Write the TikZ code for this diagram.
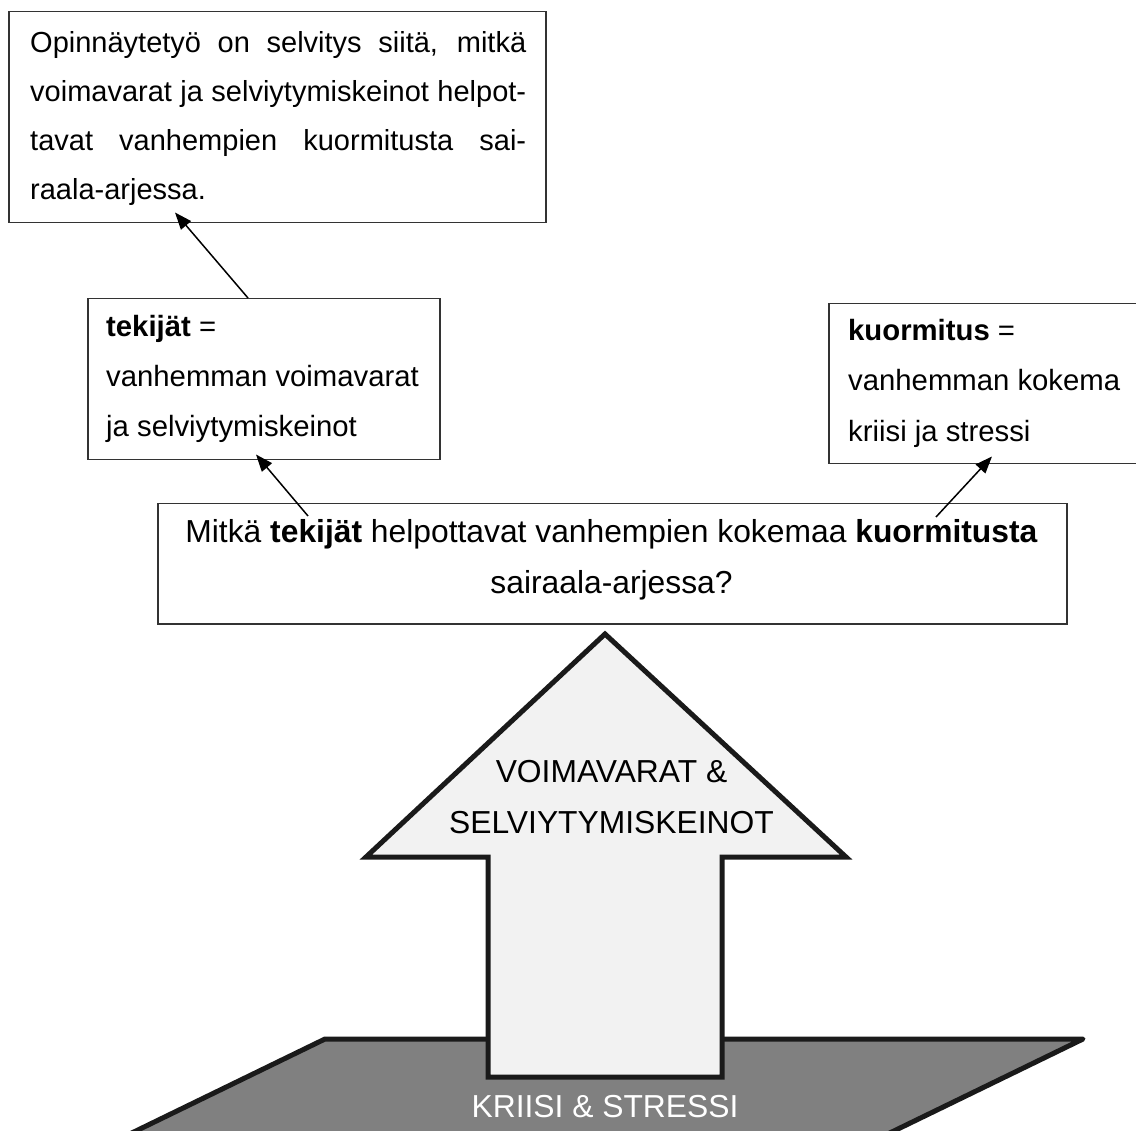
\documentclass[tikz,border=0pt]{standalone}
\usepackage{fontspec}
\setmainfont{Liberation Sans}
\usetikzlibrary{arrows.meta,calc}
\definecolor{arrowfill}{HTML}{F2F2F2}
\definecolor{planefill}{HTML}{808080}
\definecolor{edgecol}{HTML}{1A1A1A}
\begin{document}
\begin{tikzpicture}[x=1pt,y=-1pt,
  box/.style={draw=black!80,line width=1.5pt,rectangle,inner sep=0pt,anchor=north west},
  body/.style={font=\fontsize{29.3}{50}\selectfont,inner sep=0pt,anchor=base west},
  para/.style={font=\fontsize{29}{50}\selectfont,inner sep=0pt,anchor=base west},
  big/.style={font=\fontsize{31.8}{50}\selectfont,inner sep=0pt,anchor=base},
  conn/.style={line width=1.5pt,-{Triangle[length=17pt,width=13pt]}},
  thick edge/.style={line width=5pt,draw=edgecol}]
\useasboundingbox (0,0) rectangle (1136,1131);
\clip (0,0) rectangle (1136,1131);

% ground plane
\draw[thick edge,fill=planefill,line join=round] (325,1039) -- (1083,1039) -- (752,1200) -- (-6,1200) -- cycle;
% big arrow
\draw[thick edge,fill=arrowfill,line join=miter] (605,634) -- (846,857) -- (722,857) -- (722,1077) -- (488,1077) -- (488,857) -- (366,857) -- cycle;

% boxes
\node[box,minimum width=537pt,minimum height=211pt] (b1) at (8,11) {};
\node[box,minimum width=352pt,minimum height=161pt] (b2) at (87,298) {};
\node[box,minimum width=330pt,minimum height=160pt] (b3) at (828,303) {};
\node[box,minimum width=909pt,minimum height=120pt] (b4) at (157,503) {};

% box 1 text
\node[para] (t11) at (30,53) {\makebox[496pt][s]{Opinnäytetyö on selvitys siitä, mitkä}};
\node[para] (t12) at (30,102) {\makebox[496pt][s]{voimavarat ja selviytymiskeinot helpot-}};
\node[para] (t13) at (30,151) {\makebox[496pt][s]{tavat vanhempien kuormitusta sai-}};
\node[para] (t14) at (30,200) {raala-arjessa.};

% box 2 text
\node[body] (t21) at (106,337) {\textbf{tekijät} =};
\node[body] (t22) at (106,387) {vanhemman voimavarat};
\node[body] (t23) at (106,437) {ja selviytymiskeinot};

% box 3 text
\node[body] (t31) at (848,341) {\textbf{kuormitus} =};
\node[body] (t32) at (848,391) {vanhemman kokema};
\node[body] (t33) at (848,442) {kriisi ja stressi};

% question text
\node[big] (q1) at (611.5,543) {Mitkä \textbf{tekijät} helpottavat vanhempien kokemaa \textbf{kuormitusta}};
\node[big] (q2) at (611.5,593) {sairaala-arjessa?};

% arrow texts
\node[big] (a1) at (611.5,782) {VOIMAVARAT \&};
\node[big] (a2) at (611.5,833) {SELVIYTYMISKEINOT};
\node[big,text=white] (k1) at (605,1117) {KRIISI \& STRESSI};

% connectors
\draw[conn] ($(b2.north west)+(161,0)$) -- ($(b1.south west)+(167,-11)$);
\draw[conn] ($(b4.north west)+(151,13)$) -- ($(b2.south west)+(169,-6)$);
\draw[conn] ($(b4.north west)+(779,14)$) -- ($(b3.south west)+(164,-8)$);
\end{tikzpicture}
\end{document}
